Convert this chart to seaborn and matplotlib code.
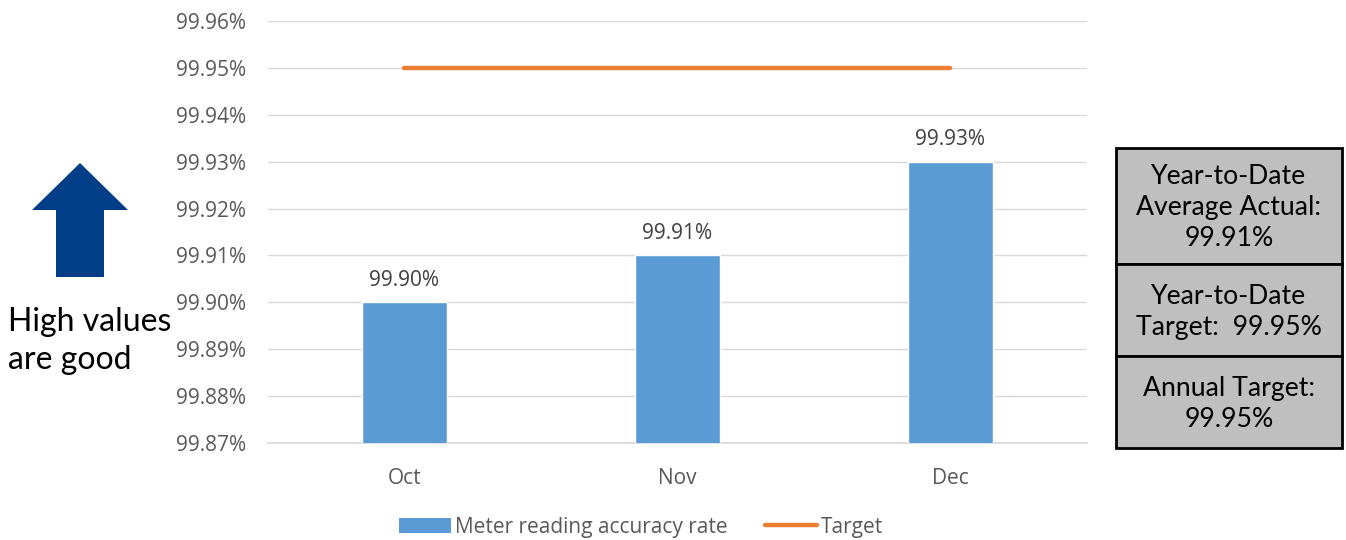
import matplotlib
matplotlib.use("Agg")
import matplotlib.pyplot as plt
import seaborn as sns
import pandas as pd
from matplotlib.patches import FancyArrow, Rectangle, Patch
from matplotlib.lines import Line2D
from matplotlib.ticker import FuncFormatter, MultipleLocator

months = ["Oct", "Nov", "Dec"]
accuracy = [99.90, 99.91, 99.93]
target = [99.95, 99.95, 99.95]
bar_labels = ["99.90%", "99.91%", "99.93%"]
box_texts = ["Year-to-Date\nAverage Actual:\n99.91%",
             "Year-to-Date\nTarget:  99.95%",
             "Annual Target:\n99.95%"]
side_text = "High values\nare good"

sns.set_theme(style="white")
plt.rcParams['font.family'] = ['Open Sans', 'DejaVu Sans']

df = pd.DataFrame({"month": months, "acc": accuracy, "target": target})

fig = plt.figure(figsize=(13.46, 5.4), dpi=100)
ax = fig.add_axes([268/1346, 1-443/540, (1087-268)/1346, (443-21)/540])

sns.barplot(data=df, x="month", y="acc", color="#5B9BD5", width=0.31,
            saturation=1, ax=ax, zorder=3)
ax.plot(range(len(months)), df["target"], color="#ED7D31", lw=3.2,
        solid_capstyle="round", zorder=4)

ax.set_ylim(99.87, 99.96)
ax.set_xlim(-0.5, 2.5)
ax.yaxis.set_major_locator(MultipleLocator(0.01))
ax.yaxis.set_major_formatter(FuncFormatter(lambda v, p: f"{v:.2f}%"))
ax.grid(axis="y", color="#D9D9D9", lw=1, zorder=0)
ax.grid(axis="x", visible=False)
for s in ["top", "right", "left"]:
    ax.spines[s].set_visible(False)
ax.spines["bottom"].set_color("#D9D9D9")
ax.set_xlabel("")
ax.set_ylabel("")
ax.tick_params(axis="both", colors="#595959", labelsize=15, length=0)
ax.tick_params(axis="y", pad=16)
ax.tick_params(axis="x", pad=18)

for i, (v, lab) in enumerate(zip(accuracy, bar_labels)):
    ax.annotate(lab, (i, v), xytext=(0, 8.5), textcoords="offset points",
                ha="center", va="bottom", fontsize=15, color="#404040")

handles = [Patch(facecolor="#5B9BD5", edgecolor="none"),
           Line2D([0], [0], color="#ED7D31", lw=3.2, solid_capstyle="round")]
fig.legend(handles, ["Meter reading accuracy rate", "Target"],
           loc="center", bbox_to_anchor=(641/1346, 1-527/540), ncol=2,
           frameon=False, fontsize=15, handlelength=2.5, handleheight=0.7,
           handletextpad=0.2, columnspacing=1.8, borderpad=0,
           labelcolor="#595959")

# Arrow on the left
arr_ax = fig.add_axes([0, 0, 1, 1], zorder=-1)
arr_ax.set_xlim(0, 1346)
arr_ax.set_ylim(540, 0)
arr_ax.axis("off")
arrow = FancyArrow(80, 277, 0, -114, width=48, head_width=96, head_length=47,
                   length_includes_head=True, color="#003F87", lw=0)
arr_ax.add_patch(arrow)
arr_ax.text(8, 341, side_text, fontsize=23, family=["Lato", "DejaVu Sans"],
            color="black", va="center", ha="left", linespacing=1.35)

# Box on the right
edges = [148, 264, 356, 448]
for i, t in enumerate(box_texts):
    y0, y1 = edges[i], edges[i+1]
    arr_ax.add_patch(Rectangle((1116, y0), 226, y1 - y0, facecolor="#BFBFBF",
                               edgecolor="black", lw=2))
    arr_ax.text(1229, (y0 + y1) / 2 + 2, t, fontsize=19.2,
                family=["Lato", "DejaVu Sans"], ha="center", va="center",
                linespacing=1.3, color="black")

fig.savefig("out.png", dpi=100)
